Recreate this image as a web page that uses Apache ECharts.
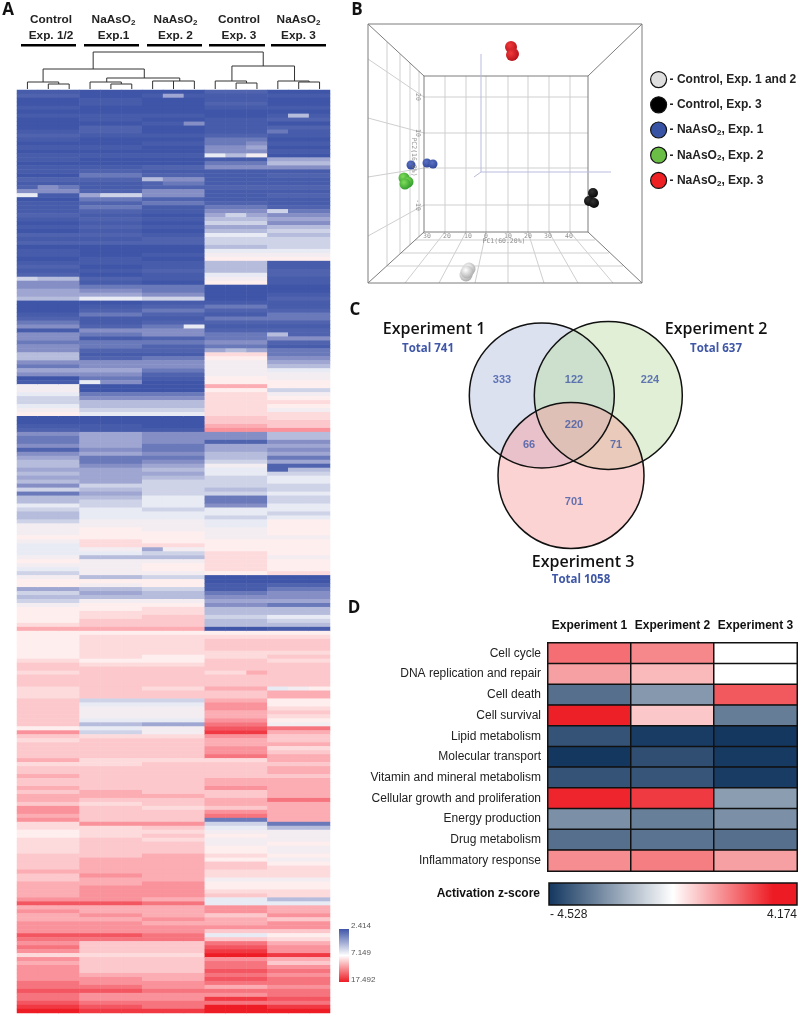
<!DOCTYPE html>
<html>
<head>
<meta charset="utf-8">
<script src="https://cdn.jsdelivr.net/npm/echarts@6/dist/echarts.min.js"></script>
<style>
  html, body { margin: 0; padding: 0; background: #fff; }
  #main { width: 800px; height: 1016px; }
</style>
</head>
<body>
<div id="main"></div>
<script>
// panel A: expression rows, read top to bottom, -9 = full blue, 0 = white, 9 = full red
var rowsControl12 = [
  -8,-7,-9,-9,-8,-9,-8,-9,-9,-9, -8,-7,-8,-9,-8,-9,-8,-8,-9,-8, -8,-9,-7,-8,-6,-5,-8,-9,-8,-8, -8,-7,-8,-9,-8,-9,-7,-8,-7,
  -9,-8,-8,-9,-8,-7,-8,-7,-3,-5, -5,-4,-4,-3,-9,-9,-9,-8,-7,-6, -5,-8,-5,-5,-6,-5,-5,-3,-3,-5, -6,-4,-5,-9,-8,0,0,-1,-2,
  -2,-1,0,1,-9,-9,-8,-7,-5,-6, -6,-5,-7,-5,-4,-3,-3,-4,-3,-4, -3,-5,-2,-6,-3,-3,-1,-2,-3,-3, -2,0,0,0,1,0,-1,-1,-1,
  0,1,0,-1,-2,0,1,1,-4,-2, -3,-2,0,1,1,1,1,2,4,1, 1,1,1,1,1,1,2,3,3,2, 3,3,3,2,2,2,3,3,3,
  3,3,3,3,1,5,3,2,3,3, 3,3,4,2,3,3,4,3,3,4, 3,4,4,3,5,5,4,5,2,2, 1,1,2,2,2,2,3,3,3,
  3,4,3,3,4,4,4,4,5,7, 4,5,4,4,5,5,5,7,6,5, 6,5,2,5,4,5,5,5,5,6, 6,7,6,6,7,8,9
];
var rowsExp1 = [
  -9,-9,-8,-8,-9,-9,-8,-8,-9,-7, -7,-8,-9,-9,-8,-9,-8,-9,-9,-8, -7,-6,-7,-8,-8,-7,-5,-6,-7,-6, -7,-8,-7,-8,-7,-8,-7,-8,-7,
  -9,-9,-9,-8,-8,-9,-8,-9,-7,-8, -6,-5,-4,-1,-9,-8,-7,-6,-8,-8, -7,-5,-6,-8,-6,-6,-7,-8,-7,-5, -5,-4,-5,-6,-5,-9,-9,-6,-5,
  -3,-3,-2,-1,-9,-9,-8,-8,-4,-4, -4,-4,-5,-4,-6,-6,-5,-4,-4,-4, -4,-2,-3,-4,-3,-2,-2,-1,-1,-1, 0,0,1,1,1,2,2,0,-1,
  -3,0,0,0,0,-3,1,0,-3,-4, -3,0,1,1,2,2,3,3,4,1, 2,2,2,2,2,2,1,2,3,3, 3,3,3,3,3,3,-2,-1,0,
  0,0,-1,-3,-1,-2,2,3,3,3, 3,3,2,2,3,3,3,3,3,3, 4,4,3,2,3,3,3,3,5,2, 2,2,3,3,3,3,3,4,4,
  4,4,5,4,4,5,5,5,5,7, 4,4,5,4,5,5,5,7,6,3, 3,3,2,3,3,3,3,4,5,5, 6,7,5,5,6,7,8
];
var rowsExp2 = [
  -9,-8,-9,-9,-9,-9,-8,-9,-8,-9, -9,-8,-9,-8,-9,-9,-8,-9,-9,-7, -8,-7,-5,-6,-7,-5,-5,-7,-6,-8, -8,-9,-8,-9,-8,-9,-8,-7,-7,
  -9,-9,-8,-9,-8,-8,-7,-8,-8,-9, -6,-6,-5,-2,-8,-7,-6,-7,-8,-7, -6,-5,-5,-7,-6,-7,-7,-8,-6,-5, -5,-6,-7,-8,-9,-9,-9,-6,-5,
  -3,-3,-2,-1,-9,-9,-9,-8,-5,-5, -5,-6,-6,-5,-6,-5,-4,-3,-4,-3, -2,-2,-2,-2,-1,-1,-1,-2,-1,-1, 0,0,0,1,1,1,2,0,-2,
  -3,0,1,1,0,-2,1,1,-2,-3, -3,0,1,2,2,3,3,3,4,1, 2,2,2,2,2,1,1,2,3,3, 3,3,3,2,3,3,-2,-1,0,
  0,0,-1,-4,0,0,2,3,3,3, 3,3,2,3,3,3,3,3,3,3, 3,4,3,3,2,3,3,3,5,3, 2,3,2,3,3,3,4,4,4,
  4,4,4,4,5,5,5,5,4,6, 4,4,4,5,4,5,5,6,6,3, 3,3,2,3,3,3,3,4,4,5, 5,6,5,5,6,6,8
];
var rowsControl3 = [
  -7,-8,-8,-7,-8,-9,-9,-8,-8,-8, -8,-7,-6,-6,-5,-5,-1,-8,-6,-5, -8,-8,-8,-8,-7,-8,-8,-8,-7,-6, -5,-4,-3,-2,-4,-3,-1,-2,-2,
  -3,-1,0,1,-3,-3,-3,-1,0,1, -9,-9,-9,-9,-8,-6,-7,-8,-6,-7, -8,-7,-6,-6,-5,-6,-4,2,1,0, 0,0,0,1,1,4,1,2,2,
  2,2,2,2,3,3,4,5,-5,-5, -7,-4,-4,-3,-3,-2,0,-1,-1,-2, -2,-2,-3,-2,-6,-6,-5,-1,-1,-2, -1,-1,0,0,0,1,1,1,2,
  2,2,2,2,1,-9,-9,-8,-8,-6, -5,-4,-5,-3,-3,-2,-3,-3,-9,1, 2,3,3,3,2,2,3,3,3,2, 3,3,3,4,3,3,4,5,5,
  4,4,5,6,7,8,5,4,4,5, 5,6,2,3,3,3,3,4,4,5, 3,3,4,4,3,5,6,-6,-2,-1, 0,1,0,0,1,1,2,1,3,
  3,2,2,0,1,1,2,3,-1,-1, 5,5,3,4,4,5,3,-1,3,6, 7,8,9,5,6,6,7,6,7,6, 4,6,5,8,6,9,9
];
var rowsExp3 = [
  -9,-8,-9,-9,-8,-9,-8,-7,-9,-7, -8,-8,-9,-8,-9,-8,-9,-4,-3,-5, -8,-7,-8,-8,-7,-8,-7,-8,-8,-7, -6,-5,-4,-5,-3,-2,-3,-2,-2,
  -2,-1,0,1,-8,-8,-7,-7,-8,-8, -9,-9,-8,-7,-8,-8,-7,-6,-6,-7, -8,-7,-3,-5,-7,-8,-6,-6,-5,-4, -3,-1,0,0,1,1,-2,0,1,
  2,1,0,2,2,3,3,5,-3,-3, -5,-4,-5,-4,-6,-4,-7,-3,-2,-1, -1,-2,-2,-1,-2,-2,-1,-1,-2,-1, 1,1,1,1,0,1,1,1,1,
  0,1,1,1,2,-9,-9,-7,-6,-5, -5,-4,-6,-3,-3,-1,-2,-3,-8,1, 2,3,3,3,2,3,2,3,3,3, 3,3,3,3,4,4,1,1,2,
  3,2,1,0,6,4,3,3,4,2, 3,4,4,3,4,4,3,4,4,4, 4,4,6,4,4,4,4,4,-6,-3, 0,0,0,1,0,0,1,0,1,
  2,2,2,0,1,1,2,2,-3,-1, 4,4,5,3,5,5,3,1,2,4, 5,5,8,4,3,5,6,5,6,6, 5,6,6,7,6,8,9
];
// single samples that differ from their group: [row, sample, value]
var sampleCells = [
  [1,7,-4],[8,8,-5],[6,13,-3],[10,12,-6],[16,9,-1],[16,10,-3],[16,11,0],[13,11,-5],[14,11,-4],
  [22,6,-3],[26,0,-1],[26,3,-4],[26,4,-2],[26,5,-2],[24,1,-5],[24,0,-7],[30,12,-2],[47,0,-2],
  [73,3,-1],[59,8,-1],[65,10,-3],[61,12,-3],[61,13,-7],[61,14,-7],[23,6,-7],[31,10,-2],[95,12,-7],
  [115,6,-4],[146,11,4],[150,12,-1],[150,13,0],[150,14,1]
];
var sampleNames = ['c1','c2','c3','e1a','e1b','e1c','e2a','e2b','e2c','c3a','c3b','c3c','e3a','e3b','e3c'];
var headerLabels = ['Control\nExp. 1/2', 'NaAsO{s|2}\nExp.1', 'NaAsO{s|2}\nExp. 2', 'Control\nExp. 3', 'NaAsO{s|2}\nExp. 3'];
var heatTicks = ['2.414', '7.149', '17.492'];
// dendrogram links: [sample position, height, sample position, height]
var dendroLinks = [
  [3.65,37,11.8,37],[3.65,37,3.65,20],[11.8,37,11.8,23],
  [1.25,20,6.1,20],[1.25,20,1.25,7],[0.5,7,2,7],[0.5,7,0.5,0],[2,7,2,5],[1.5,5,2.5,5],[1.5,5,1.5,0],[2.5,5,2.5,0],
  [6.1,20,6.1,11],[4.3,11,7.8,11],[4.3,11,4.3,7],[3.5,7,5,7],[3.5,7,3.5,0],[5,7,5,5],[4.5,5,5.5,5],[4.5,5,4.5,0],[5.5,5,5.5,0],
  [7.8,11,7.8,8],[6.5,8,8.5,8],[6.5,8,6.5,0],[7.5,8,7.5,0],[8.5,8,8.5,0],
  [10.3,23,13.3,23],[10.3,23,10.3,8],[9.5,8,11,8],[9.5,8,9.5,0],[11,8,11,6],[10.5,6,11.5,6],[10.5,6,10.5,0],[11.5,6,11.5,0],
  [13.3,23,13.3,8],[12.5,8,14,8],[12.5,8,12.5,0],[14,8,14,7],[13.5,7,14.5,7],[13.5,7,13.5,0],[14.5,7,14.5,0]
];

// panel B: points and wire frame on the projected plane of the 3D view
var pcaControl12 = [[101,14],[98,8],[99,11]];
var pcaControl3 = [[225,90],[221,82],[226,80]];
var pcaExp1 = [[43,118],[59,120],[65,119]];
var pcaExp2 = [[36,105],[40,101],[37,99]];
var pcaExp3 = [[143,236],[145,229],[144,228]];
var boxEdges = [
  [0,259,274,259],[274,259,274,0],[274,0,0,0],[0,0,0,259],
  [56,207,220,207],[220,207,220,51],[220,51,56,51],[56,51,56,207],
  [0,259,56,207],[274,259,220,207],[0,0,56,51],[274,0,220,51]
];
var wallGrid = [
  [77,51,77,207],[98,51,98,207],[118,51,118,207],[140,51,140,207],[160,51,160,207],[181,51,181,207],[202,51,202,207],
  [56,186,220,186],[56,150,220,150],[56,115,220,115],[56,78,220,78],
  [0,224,56,186],[0,165,56,150],[0,106,56,115],[0,47,56,78],
  [19,241,19,17],[32,229,32,29],[42,220,42,38],[51,212,51,46],
  [77,51,37,0],[98,51,71,0],[118,51,107,0],[140,51,140,0],[160,51,176,0],[181,51,210,0],[202,51,245,0],
  [47,43,227,43],[33,30,241,30],[19,17,255,17]
];
var pcaAxes = [[113,229,113,111],[113,111,243,111],[113,111,106,106]];
var pc1Ticks = [[59,47,'30'],[79,47,'20'],[100,47,'10'],[118,47,'0'],[140,47,'10'],[160,47,'20'],[180,47,'30'],[201,47,'40'],[136,42,'PC1(60.20%)']];
var pc2Ticks = [[50,186,'20'],[50,150,'10'],[50,78,'-10'],[46,126,'PC2(16.8%)']];
var pcaNames = ['- Control, Exp. 1 and 2', '- Control, Exp. 3', '- NaAsO2, Exp. 1', '- NaAsO2, Exp. 2', '- NaAsO2, Exp. 3'];

// panel C: venn circles and region counts
var vennExp1 = [[76.8,157.5]];
var vennExp2 = [[143.3,157.5]];
var vennExp3 = [[106,77.5]];
var vennCounts = [[37,173,333],[109,173,122],[185,173,224],[109,128,220],[64,108,66],[151,108,71],[109,51,701]];
var vennTitles = [['Experiment 1','Total 741',434,329,428,349],['Experiment 2','Total 637',716,329,716,349],['Experiment 3','Total 1058',583,562,581,580]];

// panel D: activation z-scores
var zPathways = ['Cell cycle','DNA replication and repair','Cell death','Cell survival','Lipid metabolism','Molecular transport','Vitamin and mineral metabolism','Cellular growth and proliferation','Energy production','Drug metabolism','Inflammatory response'];
var zExperiments = ['Experiment 1','Experiment 2','Experiment 3'];
var zExp1 = [2.6,1.65,-3.3,4.1,-3.9,-4.5,-3.9,4.0,-2.6,-3.3,2.0];
var zExp2 = [2.1,1.15,-2.4,0.9,-4.4,-4.0,-3.85,3.6,-2.95,-3.2,2.3];
var zExp3 = [-0.18,-0.18,3.0,-3.0,-4.5,-4.45,-4.4,-2.3,-2.6,-3.3,1.65];

var serif = '"Liberation Sans", Arial, sans-serif';
var charts = echarts.init(document.getElementById('main'));

var heatBlue = '#3f55a8', heatRed = '#ee1c25';
var heatStops = [heatBlue, '#4f63ae', '#858fc5', '#b6bcdc', '#e8eaf4', '#feeeee', '#fcc8cc', '#f9929a', '#f35661', heatRed];
var zNavy = '#12365f', zRed = '#ed1c24';

var rowGroups = [rowsControl12, rowsExp1, rowsExp2, rowsControl3, rowsExp3];
var heatData = [];
var rowLabels = rowsControl12.map(function (v, i) { return String(i); });
for (var s = 0; s < sampleNames.length; s++) {
  var grp = rowGroups[Math.floor(s / 3)];
  for (var r = 0; r < grp.length; r++) heatData.push([s, r, grp[r]]);
}
sampleCells.forEach(function (c) {
  heatData[c[1] * rowLabels.length + c[0]][2] = c[2];
});

var zData = [];
[zExp1, zExp2, zExp3].forEach(function (col, x) {
  col.forEach(function (v, y) { zData.push([x, y, v]); });
});

function segments (data, xIdx, color, width) {
  return {
    type: 'custom',
    xAxisIndex: xIdx,
    yAxisIndex: xIdx,
    silent: true,
    clip: false,
    encode: { x: [0, 2], y: [1, 3] },
    data: data,
    renderItem: function (params, api) {
      var a = api.coord([api.value(0), api.value(1)]);
      var b = api.coord([api.value(2), api.value(3)]);
      return {
        type: 'line',
        shape: { x1: a[0], y1: a[1], x2: b[0], y2: b[1] },
        style: { stroke: color, lineWidth: width, fill: null }
      };
    }
  };
}

function ball (name, data, size, c1, c2) {
  return {
    type: 'scatter',
    name: name,
    xAxisIndex: 2,
    yAxisIndex: 2,
    symbolSize: size,
    data: data,
    itemStyle: {
      opacity: 1,
      color: new echarts.graphic.RadialGradient(0.4, 0.35, 0.7, [
        { offset: 0, color: c1 },
        { offset: 1, color: c2 }
      ])
    }
  };
}

function venn (data, d, fill) {
  return {
    type: 'scatter',
    xAxisIndex: 3,
    yAxisIndex: 3,
    symbolSize: d,
    silent: true,
    data: data,
    itemStyle: { color: fill, opacity: 1 }
  };
}

function vennRing (data, d) {
  return {
    type: 'scatter',
    xAxisIndex: 3,
    yAxisIndex: 3,
    symbolSize: d,
    silent: true,
    data: data,
    itemStyle: { color: 'transparent', borderColor: '#111', borderWidth: 1.5, opacity: 1 }
  };
}

function tickText (data, rotate) {
  return {
    type: 'scatter',
    xAxisIndex: 2,
    yAxisIndex: 2,
    symbolSize: 1,
    silent: true,
    data: data,
    itemStyle: { color: 'transparent' },
    label: {
      show: true,
      position: 'inside',
      rotate: rotate,
      color: '#777',
      fontSize: 6.5,
      fontFamily: '"DejaVu Sans Mono", monospace',
      formatter: function (p) { return p.value[2]; }
    }
  };
}

function txt (x, y, text, opts) {
  var style = { x: x, y: y, text: text, font: 'bold 12px ' + serif, fill: '#111', align: 'center', verticalAlign: 'middle' };
  for (var k in opts) style[k] = opts[k];
  return { type: 'text', silent: true, z: 20, style: style };
}

var graphics = [
  txt(8, 10, 'A', { font: 'bold 17px "Open Sans", sans-serif' }),
  txt(357, 10, 'B', { font: 'bold 17px "Open Sans", sans-serif' }),
  txt(355, 310, 'C', { font: 'bold 17px "Open Sans", sans-serif' }),
  txt(354, 608, 'D', { font: 'bold 17px "Open Sans", sans-serif' })
];

// group headers over the dendrogram
var headerX = [51, 113.5, 175.5, 239, 298.5];
var barX = [[21,76],[84,139],[147,202],[209,265],[271,326]];
headerLabels.forEach(function (h, i) {
  graphics.push(txt(headerX[i], 28, h, {
    font: 'bold 11.8px ' + serif,
    fill: '#222',
    lineHeight: 16,
    rich: { s: { font: 'bold 8px ' + serif, fill: '#222', padding: [6, 0, 0, 0] } }
  }));
  graphics.push({ type: 'rect', silent: true, shape: { x: barX[i][0], y: 44, width: barX[i][1] - barX[i][0], height: 2.5 }, style: { fill: '#000' } });
});

// colour key of panel A
graphics.push({
  type: 'rect', silent: true, shape: { x: 339, y: 929, width: 10, height: 53 },
  style: { fill: new echarts.graphic.LinearGradient(0, 0, 0, 1, [
    { offset: 0, color: heatBlue }, { offset: 0.5, color: '#fff' }, { offset: 1, color: heatRed }
  ]) }
});
[926, 953, 980].forEach(function (y, i) {
  graphics.push(txt(351, y, heatTicks[i], { font: '8px ' + serif, fill: '#555', align: 'left' }));
});

// venn titles
vennTitles.forEach(function (t) {
  graphics.push(txt(t[2], t[3], t[0], { font: '600 16px "Open Sans", sans-serif', fill: '#111' }));
  graphics.push(txt(t[4], t[5], t[1], { font: 'bold 11.5px "Open Sans", sans-serif', fill: '#3f57a6' }));
});

// colour key of panel D
graphics.push({
  type: 'rect', silent: true, shape: { x: 549, y: 883, width: 248, height: 22 },
  style: {
    stroke: '#111',
    lineWidth: 1.5,
    fill: new echarts.graphic.LinearGradient(0, 0, 1, 0, [
      { offset: 0, color: zNavy }, { offset: 0.5, color: '#fff' }, { offset: 0.9, color: zRed }, { offset: 1, color: zRed }
    ])
  }
});
graphics.push(txt(540, 894, 'Activation z-score', { font: 'bold 12px ' + serif, align: 'right', fill: '#111' }));
graphics.push(txt(550, 915, '- 4.528', { font: '12px ' + serif, align: 'left', fill: '#222' }));
graphics.push(txt(797, 915, '4.174', { font: '12px ' + serif, align: 'right', fill: '#222' }));

var hidden = function (type, idx, extra) {
  var a = { type: type, gridIndex: idx, show: false };
  for (var k in extra) a[k] = extra[k];
  return a;
};

var options = {
  animation: false,
  backgroundColor: '#fff',
  textStyle: { fontFamily: serif },
  graphic: { elements: graphics },
  legend: {
    orient: 'vertical',
    left: 650,
    top: 71,
    padding: 0,
    itemWidth: 16,
    itemHeight: 16,
    itemGap: 8,
    selectedMode: false,
    textStyle: {
      fontFamily: serif,
      fontWeight: 'bold',
      fontSize: 12,
      color: '#222',
      padding: [0, 0, 0, -2],
      rich: { s: { fontSize: 8, fontWeight: 'bold', color: '#222', padding: [6, 0, 0, 0] } }
    },
    formatter: function (n) { return n.replace('NaAsO2', 'NaAsO{s|2}'); },
    data: [
      { name: pcaNames[0], icon: 'circle', itemStyle: { color: '#dedede', borderColor: '#111', borderWidth: 1.2 } },
      { name: pcaNames[1], icon: 'circle', itemStyle: { color: '#000', borderColor: '#111', borderWidth: 1.2 } },
      { name: pcaNames[2], icon: 'circle', itemStyle: { color: '#3953a4', borderColor: '#111', borderWidth: 1.2 } },
      { name: pcaNames[3], icon: 'circle', itemStyle: { color: '#6abd45', borderColor: '#111', borderWidth: 1.2 } },
      { name: pcaNames[4], icon: 'circle', itemStyle: { color: '#ed2024', borderColor: '#111', borderWidth: 1.2 } }
    ]
  },
  visualMap: [
    { show: false, seriesIndex: 0, dimension: 2, min: -9, max: 9, inRange: { color: heatStops } },
    { show: false, seriesIndex: 1, dimension: 2, min: -4.528, max: 4.174, inRange: { color: [zNavy, '#ffffff', zRed] } }
  ],
  grid: [
    { left: 17, top: 90, width: 313, height: 923 },
    { left: 17, top: 51, width: 313, height: 38 },
    { left: 368, top: 24, width: 274, height: 259 },
    { left: 465, top: 318, width: 225, height: 235 },
    { left: 548, top: 643, width: 249, height: 228 }
  ],
  xAxis: [
    hidden('category', 0, { data: sampleNames }),
    hidden('value', 1, { min: 0, max: 15 }),
    hidden('value', 2, { min: 0, max: 274 }),
    hidden('value', 3, { min: 0, max: 225 }),
    {
      type: 'category',
      gridIndex: 4,
      position: 'top',
      data: zExperiments,
      axisLine: { show: false },
      axisTick: { show: false },
      axisLabel: { fontFamily: serif, fontWeight: 'bold', fontSize: 12, color: '#111', margin: 11, interval: 0 }
    }
  ],
  yAxis: [
    hidden('category', 0, { data: rowLabels, inverse: true }),
    hidden('value', 1, { min: 0, max: 38 }),
    hidden('value', 2, { min: 0, max: 259 }),
    hidden('value', 3, { min: 0, max: 235 }),
    {
      type: 'category',
      gridIndex: 4,
      inverse: true,
      data: zPathways,
      axisLine: { show: false },
      axisTick: { show: false },
      axisLabel: { fontFamily: serif, fontSize: 12, color: '#222', margin: 7, interval: 0 }
    }
  ],
  series: [
    { type: 'heatmap', xAxisIndex: 0, yAxisIndex: 0, data: heatData, silent: true, progressive: 0 },
    { type: 'heatmap', xAxisIndex: 4, yAxisIndex: 4, data: zData, silent: true, itemStyle: { borderColor: '#111', borderWidth: 1.5 } },
    segments(dendroLinks, 1, '#333', 1),
    segments(wallGrid, 2, '#cfcfcf', 1),
    segments(boxEdges, 2, '#7d7d7d', 1),
    segments(pcaAxes, 2, '#b9bbdd', 1),
    tickText(pc1Ticks, 0),
    tickText(pc2Ticks, -90),
    ball(pcaNames[0], pcaControl12, 13, '#ffffff', '#a9a9a9'),
    ball(pcaNames[1], pcaControl3, 10, '#333333', '#050505'),
    ball(pcaNames[2], pcaExp1, 9, '#5a70c4', '#2f4596'),
    ball(pcaNames[3], pcaExp2, 11, '#7fdc5a', '#2f9a2a'),
    ball(pcaNames[4], pcaExp3, 12, '#f03a3a', '#b5101a'),
    venn(vennExp1, 145, 'rgba(186,196,226,0.5)'),
    venn(vennExp2, 148, 'rgba(190,222,165,0.47)'),
    venn(vennExp3, 146, 'rgba(248,150,150,0.42)'),
    vennRing(vennExp1, 145),
    vennRing(vennExp2, 148),
    vennRing(vennExp3, 146),
    {
      type: 'scatter',
      xAxisIndex: 3,
      yAxisIndex: 3,
      symbolSize: 1,
      silent: true,
      data: vennCounts,
      itemStyle: { color: 'transparent' },
      label: {
        show: true,
        position: 'inside',
        fontFamily: serif,
        fontWeight: 'bold',
        fontSize: 11,
        color: '#3f57a6',
        formatter: function (p) { return p.value[2]; }
      }
    }
  ]
};
charts.setOption(options);
window.addEventListener('resize', function () {
  charts.resize();
});
</script>
</body>
</html>
